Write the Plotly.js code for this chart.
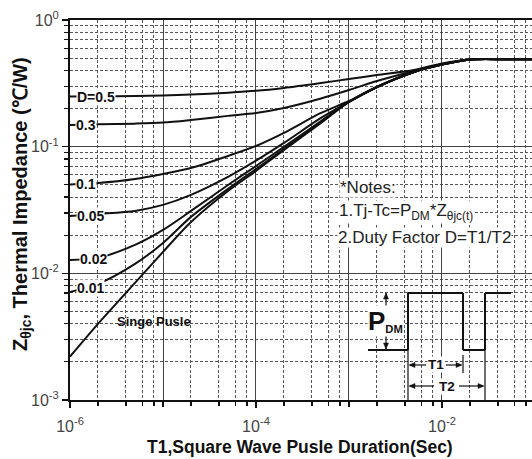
<!DOCTYPE html>
<html>
<head>
<meta charset="utf-8">
<script src="https://cdn.plot.ly/plotly-3.0.1.min.js"></script>
<style>html,body{margin:0;padding:0;background:#fff;}#chart{width:532px;height:459px;}</style>
</head>
<body>
<div id="chart"></div>
<script>
// Pulse duration T1 (s)
const pulseDuration = [1e-6, 2e-6, 5e-6, 1e-5, 2e-5, 5e-5, 1e-4, 2e-4, 5e-4, 1e-3, 2e-3, 5e-3, 1e-2, 2e-2, 5e-2, 1e-1];
// Thermal impedance Zθjc (°C/W) per duty factor
const zD050 = [0.249, 0.250, 0.251, 0.254, 0.258, 0.267, 0.276, 0.291, 0.318, 0.342, 0.368, 0.403, 0.454, 0.488, 0.490, 0.490];
const zD030 = [0.148, 0.150, 0.152, 0.155, 0.1625, 0.175, 0.1845, 0.202, 0.240, 0.280, 0.330, 0.396, 0.449, 0.488, 0.490, 0.490];
const zD010 = [0.0503, 0.0517, 0.0556, 0.0609, 0.0679, 0.0845, 0.1013, 0.1285, 0.1845, 0.2294, 0.296, 0.389, 0.445, 0.488, 0.490, 0.490];
const zD005 = [0.0283, 0.0294, 0.0311, 0.0347, 0.0416, 0.0577, 0.0775, 0.107, 0.1685, 0.2253, 0.296, 0.389, 0.445, 0.488, 0.490, 0.490];
const zD002 = [0.01276, 0.01324, 0.01676, 0.0220, 0.0311, 0.0498, 0.0704, 0.0995, 0.1595, 0.2253, 0.296, 0.389, 0.445, 0.488, 0.490, 0.490];
const zD001 = [0.00713, 0.00825, 0.01187, 0.01738, 0.0279, 0.0464, 0.0667, 0.0959, 0.1566, 0.2253, 0.296, 0.389, 0.445, 0.488, 0.490, 0.490];
const zSingle = [0.0022, 0.00399, 0.0084, 0.01476, 0.0254, 0.0447, 0.0643, 0.0942, 0.1538, 0.2253, 0.296, 0.389, 0.445, 0.488, 0.490, 0.490];

// axis ticks
const xTickVals = [1e-6, 1e-4, 1e-2];
const xTickText = ['10<sup>-6</sup>', '10<sup>-4</sup>', '10<sup>-2</sup>'];
const xPlainDecades = [1e-5, 1e-3, 1e-1];
const yTickVals = [1e-3, 1e-2, 1e-1, 1];
const yTickText = ['10<sup>-3</sup>', '10<sup>-2</sup>', '10<sup>-1</sup>', '10<sup>0</sup>'];
const xMinorMantissa = [2, 4, 6, 8];
const yMinorMantissa = [2, 3, 4, 5, 6, 7, 8, 9];

const xMinor = [];
for (let e = -6; e < -1; e++) xMinorMantissa.forEach(m => xMinor.push(m * Math.pow(10, e)));
const yMinor = [];
for (let e = -3; e < 0; e++) yMinorMantissa.forEach(m => yMinor.push(m * Math.pow(10, e)));

const series = [zD050, zD030, zD010, zD005, zD002, zD001, zSingle];
const traces = series.map(s => ({
  x: pulseDuration, y: s, type: 'scatter', mode: 'lines',
  line: {color: '#111', width: 2, shape: 'spline', smoothing: 0.8},
  hoverinfo: 'skip', showlegend: false
}));
// invisible trace on an overlay axis that carries the unlabelled decade grid lines
traces.unshift({x: [1e-6], y: [1e-3], xaxis: 'x2', yaxis: 'y', mode: 'markers', marker: {opacity: 0}, hoverinfo: 'skip', showlegend: false});

// layout geometry helpers (pixel -> paper)
const L = 70, R = 532, T = 20, B = 400;
const px = x => (x - L) / (R - L);
const py = y => (B - y) / (B - T);

const FONT = 'Liberation Sans, Arial, sans-serif';
function lab(text, x, y, size, opts) {
  return Object.assign({text: text, xref: 'paper', yref: 'paper', x: px(x), y: py(y),
    showarrow: false, font: {family: FONT, size: size, color: '#111', weight: 'bold'},
    bgcolor: '#fff', borderpad: 0, xanchor: 'center', yanchor: 'middle'}, opts || {});
}
const noteFont = {family: FONT, size: 17, color: '#222'};

const annotations = [
  lab('D=0.5', 96, 96.5, 14),
  lab('0.3', 86, 124.5, 14),
  lab('0.1', 86, 184.5, 14),
  lab('0.05', 90, 216, 14),
  lab('0.02', 93, 259, 14),
  lab('0.01', 90, 288, 14),
  lab('Singe Pusle', 154, 321, 13, {bgcolor: 'rgba(0,0,0,0)'}),
  lab('*Notes:', 339, 187, 17, {font: noteFont, xanchor: 'left'}),
  lab('1.Tj-Tc=P<sub>DM</sub>*Z<sub>θjc(t)</sub>', 338, 212, 17, {font: noteFont, xanchor: 'left'}),
  lab('2.Duty Factor D=T1/T2', 337, 237, 17, {font: noteFont, xanchor: 'left'}),
  lab('<span style="font-size:26px">P</span><sub>DM</sub>', 385, 321, 16),
  lab('T1', 436, 364, 13.5),
  lab('T2', 447, 386, 13.5),
  // axis titles
  lab('T1,Square Wave Pusle Duration(Sec)', 300, 447, 17.5, {bgcolor: 'rgba(0,0,0,0)'}),
  lab('Z<sub>θjc</sub>, Thermal Impedance (℃/W)', 22, 204, 20, {bgcolor: 'rgba(0,0,0,0)', textangle: -90})
];

// pulse diagram (decorative, pixel based)
const shapes = [];
function seg(x0, y0, x1, y1, w) {
  shapes.push({type: 'line', xref: 'paper', yref: 'paper', x0: px(x0), y0: py(y0), x1: px(x1), y1: py(y1),
    line: {color: '#111', width: w || 1.5}});
}
function head(xt, yt, dir) { // small filled triangle arrow head
  const s = 6, h = 2.5;
  let pts;
  if (dir === 'l') pts = [[xt, yt], [xt + s, yt - h], [xt + s, yt + h]];
  if (dir === 'r') pts = [[xt, yt], [xt - s, yt - h], [xt - s, yt + h]];
  if (dir === 'u') pts = [[xt, yt], [xt - h, yt + s], [xt + h, yt + s]];
  if (dir === 'd') pts = [[xt, yt], [xt - h, yt - s], [xt + h, yt - s]];
  const path = 'M ' + pts.map(p => px(p[0]) + ',' + py(p[1])).join(' L ') + ' Z';
  shapes.push({type: 'path', xref: 'paper', yref: 'paper', path: path, fillcolor: '#111', line: {color: '#111', width: 0.5}});
}
const wave = [[368, 350], [408, 350], [408, 293], [463, 293], [463, 350], [485, 350], [485, 293], [511, 293]];
for (let i = 0; i < wave.length - 1; i++) seg(wave[i][0], wave[i][1], wave[i + 1][0], wave[i + 1][1], 2);
seg(408, 350, 408, 400, 1.2);
seg(463, 355, 463, 373, 1.2);
seg(485, 350, 485, 400, 1.2);
seg(386, 293, 386, 350, 1.2);
head(386, 293, 'u'); head(386, 349, 'd');
seg(410, 365, 426, 365, 1.2); head(409, 365, 'l');
seg(446, 365, 461, 365, 1.2); head(462, 365, 'r');
seg(410, 386, 434, 386, 1.2); head(409, 386, 'l');
seg(459, 386, 483, 386, 1.2); head(484, 386, 'r');

const minorGrid = {showgrid: true, gridcolor: '#555', griddash: '3px,2px', gridwidth: 1};
const gridCommon = {showgrid: true, gridcolor: '#444', gridwidth: 1, zeroline: false};
const layout = {
  width: 532, height: 459,
  margin: {l: 70, r: 0, t: 20, b: 59},
  paper_bgcolor: '#fff', plot_bgcolor: '#fff',
  font: {family: FONT, color: '#111'},
  xaxis: Object.assign({
    type: 'log', range: [-6, -1.032],
    tickmode: 'array', tickvals: xTickVals, ticktext: xTickText,
    tickfont: {family: FONT, size: 16, color: '#444'}, ticklabelstandoff: 5,
    ticks: 'outside', ticklen: 6, tickwidth: 1.5, tickcolor: '#111',
    showline: true, linecolor: '#111', linewidth: 2, mirror: true,
    minor: Object.assign({tickmode: 'array', tickvals: xMinor, ticks: 'outside', ticklen: 4, tickcolor: '#111', tickwidth: 1.2}, minorGrid)
  }, gridCommon),
  xaxis2: Object.assign({
    type: 'log', range: [-6, -1.032], overlaying: 'x', side: 'bottom',
    tickmode: 'array', tickvals: xPlainDecades, showticklabels: false,
    ticks: 'outside', ticklen: 6, tickwidth: 1.5, tickcolor: '#111', showline: false
  }, gridCommon),
  yaxis: Object.assign({
    type: 'log', range: [-3, 0],
    tickmode: 'array', tickvals: yTickVals, ticktext: yTickText,
    tickfont: {family: FONT, size: 16, color: '#444'},
    ticks: 'outside', ticklen: 6, tickwidth: 1.5, tickcolor: '#111',
    showline: true, linecolor: '#111', linewidth: 2,
    minor: Object.assign({tickmode: 'array', tickvals: yMinor, ticks: 'outside', ticklen: 4, tickcolor: '#111', tickwidth: 1.2}, minorGrid)
  }, gridCommon),
  annotations: annotations,
  shapes: shapes
};

Plotly.newPlot('chart', traces, layout, {displayModeBar: false, staticPlot: true});
</script>
</body>
</html>
